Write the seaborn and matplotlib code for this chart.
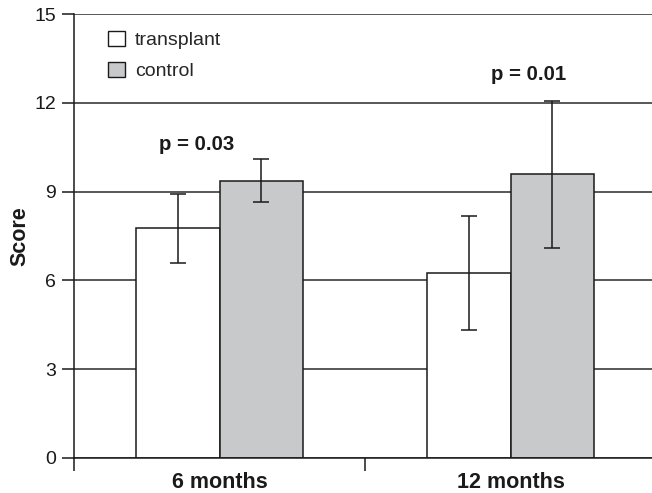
import matplotlib
matplotlib.use("Agg")
import matplotlib.pyplot as plt
import seaborn as sns
import pandas as pd
import numpy as np

# ---- data ----
timepoints = ["6 months", "12 months"]
groups = ["transplant", "control"]
transplant_mean = [7.76, 6.24]
transplant_err = [1.17, 1.92]
control_mean = [9.37, 9.58]
control_err = [0.73, 2.48]
p_labels = ["p = 0.03", "p = 0.01"]
p_label_pos = [(-0.08, 10.6), (1.063, 12.95)]
y_ticks = [0, 3, 6, 9, 12, 15]

df = pd.DataFrame({
    "time": timepoints * 2,
    "group": [groups[0]] * 2 + [groups[1]] * 2,
    "score": transplant_mean + control_mean,
    "err": transplant_err + control_err,
})

sns.set_style("white")
plt.rcParams["font.family"] = ["Liberation Sans", "DejaVu Sans"]

fig = plt.figure(figsize=(6.52, 4.93), dpi=100)
ax = fig.add_axes([74 / 652, 35 / 493, 582 / 652, 444 / 493])

palette = {"transplant": "#ffffff", "control": "#c8c9cb"}
sns.barplot(data=df, x="time", y="score", hue="group", order=timepoints,
            hue_order=groups, palette=palette, errorbar=None, width=0.572,
            gap=0, edgecolor="#1a1a1a", linewidth=1.1, saturation=1,
            ax=ax, zorder=2)

# error bars located from the drawn bars
for cont, g in zip(ax.containers, groups):
    sub = df[df["group"] == g].set_index("time").loc[timepoints]
    xs = [b.get_x() + b.get_width() / 2 for b in cont]
    ax.errorbar(xs, sub["score"].values, yerr=sub["err"].values, fmt="none",
                ecolor="#1a1a1a", elinewidth=1.1, capsize=6, capthick=1.1,
                zorder=3)

for lab, (x, y) in zip(p_labels, p_label_pos):
    ax.text(x, y, lab, ha="center", va="center", fontsize=14.7,
            fontweight="bold", color="#1a1a1a")

ax.set_xlim(-0.5, 1.5)
ax.set_ylim(0, 15)
ax.set_yticks(y_ticks)
ax.set_yticklabels([str(t) for t in y_ticks], fontsize=14, color="#1a1a1a")
ax.yaxis.grid(True, color="#2a2a2a", linewidth=1.1, zorder=0)
ax.set_axisbelow(True)

ax.set_xticks([0, 1])
ax.set_xticklabels(timepoints, fontsize=15.5, fontweight="bold", color="#1a1a1a")
ax.set_xticks([-0.5, 0.5, 1.5], minor=True)
ax.tick_params(axis="x", which="major", length=0, pad=10)
ax.tick_params(axis="x", which="minor", direction="out", length=9,
               width=1.1, color="#1a1a1a", bottom=True)
ax.tick_params(axis="y", direction="out", length=9, width=1.1,
               color="#1a1a1a", left=True, pad=4)

ax.set_xlabel("")
ax.set_ylabel("Score", fontsize=15.5, fontweight="bold", color="#1a1a1a",
              labelpad=3)

for s in ["top", "right"]:
    ax.spines[s].set_visible(False)
for s in ["left", "bottom"]:
    ax.spines[s].set_color("#1a1a1a")
    ax.spines[s].set_linewidth(1.1)

leg = ax.legend(loc="upper left", bbox_to_anchor=(0.029, 1.002), frameon=False,
                fontsize=14, handlelength=0.85, handleheight=0.85,
                handletextpad=0.5, labelspacing=0.65)
for h in leg.legend_handles:
    h.set_edgecolor("#1a1a1a")
    h.set_linewidth(1.0)

fig.savefig("out.png", dpi=100)
